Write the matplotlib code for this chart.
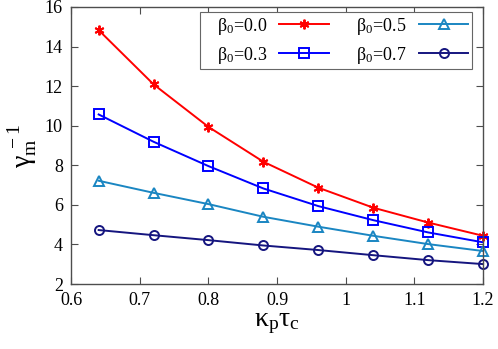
import matplotlib
matplotlib.use("Agg")
import matplotlib.pyplot as plt

plt.rcParams["font.family"] = ["Liberation Serif", "DejaVu Serif"]
plt.rcParams["mathtext.fontset"] = "custom"
plt.rcParams["mathtext.rm"] = "Liberation Serif"
plt.rcParams["mathtext.it"] = "Liberation Serif:italic"

x = [0.64, 0.72, 0.80, 0.88, 0.96, 1.04, 1.12, 1.20]
beta_00 = [14.83, 12.09, 9.94, 8.18, 6.87, 5.86, 5.11, 4.44]
beta_03 = [10.57, 9.19, 7.96, 6.83, 5.94, 5.23, 4.61, 4.11]
beta_05 = [7.22, 6.61, 6.04, 5.40, 4.90, 4.44, 4.02, 3.67]
beta_07 = [4.73, 4.47, 4.22, 3.95, 3.72, 3.46, 3.21, 3.01]

labels = [r"β$_0$=0.0", r"β$_0$=0.3", r"β$_0$=0.5", r"β$_0$=0.7"]
series = [beta_00, beta_03, beta_05, beta_07]
colors = ["#ff0000", "#0000ff", "#1a86c2", "#15157f"]
markers = ["*", "s", "^", "o"]

fig = plt.figure(figsize=(4.98, 3.49), dpi=100)
ax = fig.add_axes([0.143, 0.186, 0.827, 0.794])

for ys, lab, c, m in zip(series, labels, colors, markers):
    if m == "*":
        ax.plot(x, ys, color=c, lw=1.4, marker=(6, 2, 0), ms=7, mew=1.4,
                label="   " + lab, clip_on=False)
    else:
        ax.plot(x, ys, color=c, lw=1.4, marker=m, ms=6.5, mfc="none", mew=1.4,
                label="   " + lab, clip_on=False)

ax.set_xlim(0.6, 1.2)
ax.set_ylim(2, 16)
ax.set_xticks([0.6, 0.7, 0.8, 0.9, 1.0, 1.1, 1.2])
ax.set_xticklabels(["0.6", "0.7", "0.8", "0.9", "1", "1.1", "1.2"])
ax.set_yticks([2, 4, 6, 8, 10, 12, 14, 16])
ax.tick_params(direction="in", top=True, right=True, length=5, width=0.8,
               labelsize=13, color="0.3", pad=6)
for s in ax.spines.values():
    s.set_color("0.3")
    s.set_linewidth(1.0)

ax.set_xlabel(r"κ$_\mathrm{p}$τ$_\mathrm{c}$", fontsize=20, labelpad=1)
ax.set_ylabel(r"γ$_\mathrm{m}^{\ -1}$", fontsize=20, labelpad=4)

leg = ax.legend(ncol=2, loc="upper right", bbox_to_anchor=(0.973, 0.982),
                borderaxespad=0, markerfirst=False, fancybox=False,
                framealpha=1, edgecolor="0.4", fontsize=13,
                handlelength=2.75, columnspacing=0.8, handletextpad=0.65,
                borderpad=0.2, labelspacing=0.45)
leg.get_frame().set_linewidth(0.8)

fig.savefig("out.png", dpi=100)
